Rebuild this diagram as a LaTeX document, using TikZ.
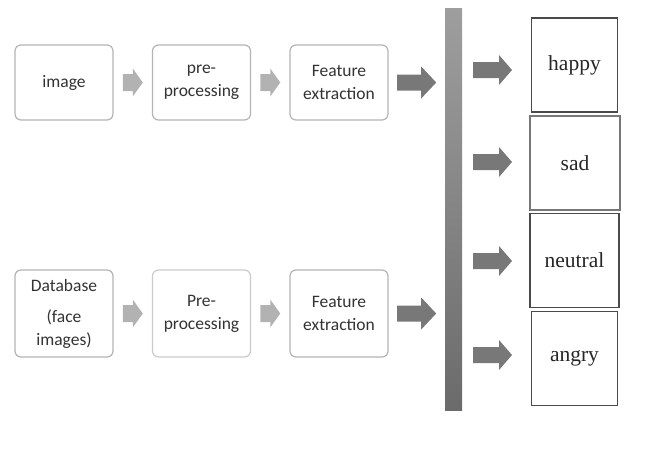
\documentclass[tikz,border=0pt]{standalone}
\usepackage{fontspec}
\setmainfont{Carlito}
\newfontfamily\serifout{Liberation Serif}
\usetikzlibrary{calc}
\definecolor{boxline}{HTML}{B4B4B4}
\definecolor{txt}{HTML}{333333}
\definecolor{lightarr}{HTML}{B2B2B2}
\definecolor{darkarr}{HTML}{787878}
\definecolor{outline}{HTML}{4A4A4A}
\tikzset{
  stagebox/.style={draw=boxline, line width=1.2pt, rounded corners=6pt, fill=white,
    minimum width=98pt, align=center, text=txt, inner sep=2pt,
    font=\fontsize{17.5}{23}\selectfont},
  outbox/.style={draw=outline, line width=1.3pt, fill=white, minimum width=86pt,
    minimum height=94pt, text=black!85, font=\serifout\fontsize{21.5}{24}\selectfont},
}
% #1 name, #2 center, #3 total length, #4 head length, #5 shaft width, #6 head width, #7 colour
\newcommand{\blockarrow}[7]{%
  \coordinate (#1) at (#2);
  \fill[#7] ($(#1)+(-#3/2,-#5/2)$) -- ($(#1)+(#3/2-#4,-#5/2)$) -- ($(#1)+(#3/2-#4,-#6/2)$)
    -- ($(#1)+(#3/2,0)$) -- ($(#1)+(#3/2-#4,#6/2)$) -- ($(#1)+(#3/2-#4,#5/2)$)
    -- ($(#1)+(-#3/2,#5/2)$) -- cycle;}
\begin{document}
\begin{tikzpicture}[x=1pt,y=-1pt]
\useasboundingbox (0,0) rectangle (671,453);
% top row
\node[stagebox, minimum height=75pt] (img) at (64,82.5) {image};
\node[stagebox, minimum height=75pt] (pre1) at (201.5,82.5) {pre-\\processing};
\node[stagebox, minimum height=75pt] (fe1) at (339,82.5) {Feature\\extraction};
% bottom row
\node[stagebox, minimum height=87pt] (db) at (64,313.5) {Database\\[8pt](face\\images)};
\node[stagebox, minimum height=87pt, draw=boxline!70] (pre2) at (201.5,313.5) {Pre-\\processing};
\node[stagebox, minimum height=87pt] (fe2) at (339,313.5) {Feature\\extraction};
% bar
\node[draw=none, minimum width=17pt, minimum height=402pt, inner sep=0pt,
  top color=black!38, bottom color=black!58] (bar) at (453.5,209) {};
% output boxes
\node[outbox] (happy) at (574.5,65) {happy};
\node[outbox, minimum width=90pt, draw=outline!75] (sad) at (575,163) {sad};
\node[outbox, minimum width=89pt] (neutral) at (574.5,260.5) {neutral};
\node[outbox] (angry) at (574.5,358.5) {angry};
% arrows top row
\blockarrow{a1}{$(img.east)!0.5!(pre1.west)$}{20}{10}{17}{28}{lightarr}
\blockarrow{a2}{$(pre1.east)!0.5!(fe1.west)$}{20}{10}{17}{28}{lightarr}
\blockarrow{a3}{$(fe1.east)!0.5!(fe1.east -| bar.west)$}{39}{15}{16}{32}{darkarr}
% arrows bottom row
\blockarrow{b1}{$(db.east)!0.5!(pre2.west)$}{20}{10}{17}{28}{lightarr}
\blockarrow{b2}{$(pre2.east)!0.5!(fe2.west)$}{20}{10}{17}{28}{lightarr}
\blockarrow{b3}{$(fe2.east)!0.5!(fe2.east -| bar.west)$}{39}{15}{16}{32}{darkarr}
% output arrows
\blockarrow{o1}{492.5,70}{39}{13}{16}{30}{darkarr}
\blockarrow{o2}{492.5,162}{39}{13}{16}{30}{darkarr}
\blockarrow{o3}{492.5,261}{39}{13}{16}{30}{darkarr}
\blockarrow{o4}{492.5,355}{39}{13}{16}{30}{darkarr}
\end{tikzpicture}
\end{document}
